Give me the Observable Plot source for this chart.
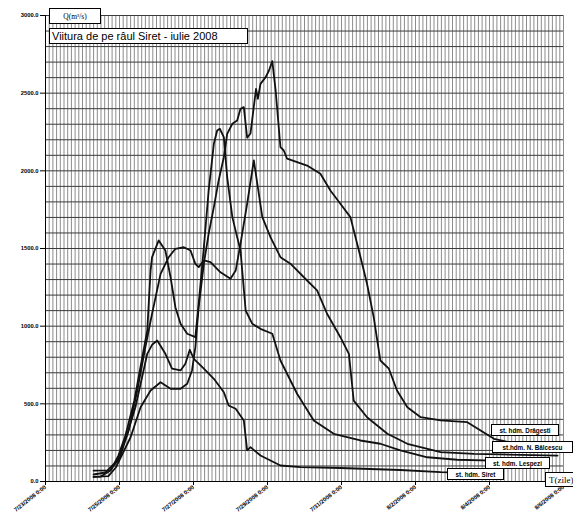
<!DOCTYPE html>
<html>
<head>
<meta charset="utf-8">
<script src="https://cdn.jsdelivr.net/npm/d3@7"></script>
<script src="https://cdn.jsdelivr.net/npm/@observablehq/plot@0.6"></script>
<style>
  html, body { margin: 0; padding: 0; background: #fff; overflow: hidden; }
  #wrap { position: relative; width: 573px; height: 512px; overflow: hidden; }
  #chart svg { display: block; }
  .box { position: absolute; background: #fff; border: 1px solid #000; box-sizing: border-box;
         display: flex; align-items: center; justify-content: center; white-space: nowrap; color: #000; }
  .unit { font: 7.5px "Liberation Serif", serif; }
  .title { font: 11px "Liberation Sans", Arial, sans-serif; justify-content: flex-start; padding-left: 2px; }
  .lab { font: bold 6.3px "Liberation Sans", Arial, sans-serif; }
  .tz { font: 9px "Liberation Serif", serif; justify-content: flex-start; padding-left: 3px; }
</style>
</head>
<body>
<div id="wrap">
  <div id="chart"></div>
  <div class="box unit" style="left:49px;top:8px;width:52px;height:16px">Q(m³/s)</div>
  <div class="box title" style="left:49px;top:28px;width:199px;height:16px">Viitura de pe râul Siret - iulie 2008</div>
  <div class="box lab" style="left:491px;top:424px;width:68px;height:12px">st. hdm. Drăgești</div>
  <div class="box lab" style="left:492px;top:441px;width:81px;height:12px">st.hdm. N. Bălcescu</div>
  <div class="box lab" style="left:485px;top:457px;width:65px;height:12px">st. hdm. Lespezi</div>
  <div class="box lab" style="left:447px;top:468px;width:57px;height:12px">st. hdm. Siret</div>
  <div class="box tz" style="left:545px;top:472px;width:40px;height:15px">T(zile)</div>
</div>
<script>
// Tick labels
const xTickPos = [0, 2, 4, 6, 8, 10, 12, 14];
const xTickLabels = ["7/23/2008 0:00", "7/25/2008 0:00", "7/27/2008 0:00", "7/29/2008 0:00",
                     "7/31/2008 0:00", "8/2/2008 0:00", "8/4/2008 0:00", "8/6/2008 0:00"];
const yTicks = [0, 500, 1000, 1500, 2000, 2500, 3000];

// Stations (time in days from first tick, discharge in m3/s)
const siretT = [1.3, 1.62, 1.94, 2.21, 2.43, 2.61, 2.75, 2.88, 3.02, 3.24, 3.42, 3.65, 3.78, 3.9, 4.01, 4.28, 4.55, 4.82, 4.95, 5.14, 5.36, 5.45, 5.54, 5.81, 6.35, 6.89, 7.97, 9.59, 10.68, 11.5];
const siretQ = [45, 58, 135, 307, 478, 671, 822, 880, 908, 822, 726, 715, 758, 848, 790, 726, 661, 575, 489, 468, 393, 200, 221, 167, 103, 92, 87, 74, 60, 55];

const lespeziT = [1.3, 1.49, 1.76, 1.97, 2.16, 2.4, 2.6, 2.75, 2.84, 2.88, 3.06, 3.24, 3.38, 3.51, 3.65, 3.83, 4.05, 4.14, 4.28, 4.41, 4.55, 4.64, 4.71, 4.82, 4.91, 5.05, 5.18, 5.27, 5.41, 5.59, 5.81, 6.13, 6.35, 6.8, 7.25, 7.79, 8.51, 9.05, 9.59, 10.32, 11.13, 12.1, 12.6];
const lespeziQ = [30, 32, 71, 167, 296, 520, 780, 972, 1358, 1444, 1552, 1487, 1315, 1122, 1015, 951, 929, 1144, 1508, 1873, 2174, 2260, 2271, 2217, 1959, 1702, 1573, 1487, 1101, 1015, 983, 951, 779, 565, 393, 307, 264, 243, 200, 156, 140, 135, 130];

const balcescuT = [1.3, 1.75, 2.0, 2.25, 2.48, 2.7, 2.88, 3.11, 3.33, 3.51, 3.74, 3.92, 4.05, 4.14, 4.28, 4.46, 4.73, 5.0, 5.14, 5.27, 5.45, 5.63, 5.86, 6.08, 6.35, 6.62, 7.07, 7.34, 7.61, 7.97, 8.2, 8.33, 8.69, 9.24, 9.78, 10.68, 11.58, 12.3, 13.84];
const balcescuQ = [70, 72, 150, 330, 586, 865, 1080, 1337, 1444, 1498, 1508, 1487, 1401, 1380, 1423, 1412, 1347, 1305, 1358, 1530, 1788, 2067, 1702, 1573, 1444, 1402, 1294, 1230, 1080, 929, 822, 521, 414, 307, 243, 189, 178, 174, 167];

const dragestiT = [1.3, 1.7, 1.9, 2.3, 2.57, 2.84, 3.11, 3.38, 3.65, 3.83, 3.96, 4.05, 4.14, 4.28, 4.41, 4.55, 4.68, 4.82, 4.91, 5.05, 5.18, 5.27, 5.36, 5.45, 5.54, 5.69, 5.74, 5.81, 5.95, 6.04, 6.13, 6.22, 6.35, 6.44, 6.53, 7.07, 7.43, 7.7, 7.97, 8.24, 8.47, 8.69, 8.87, 9.05, 9.28, 9.5, 9.78, 10.14, 10.68, 11.4, 11.76, 12.12, 12.57];
const dragestiQ = [30, 35, 90, 285, 478, 586, 639, 597, 597, 629, 715, 865, 1122, 1402, 1595, 1766, 1938, 2088, 2238, 2303, 2324, 2399, 2410, 2213, 2240, 2528, 2464, 2560, 2603, 2646, 2706, 2517, 2152, 2131, 2078, 2034, 1981, 1873, 1788, 1702, 1487, 1273, 1058, 779, 726, 586, 478, 414, 393, 382, 328, 275, 251];

const stations = [
  ["Siret", siretT, siretQ],
  ["Lespezi", lespeziT, lespeziQ],
  ["N. Bălcescu", balcescuT, balcescuQ],
  ["Drăgești", dragestiT, dragestiQ]
];
const table = stations.flatMap(([name, T, Q]) => T.map((t, i) => ({station: name, t, q: Q[i]})));

// Grid lines: horizontal every 100 m3/s, vertical every 0.1 day
const yGrid = d3.range(0, 3001, 100);
const xGrid = d3.range(0, 141).map(i => i / 10);

const chart = Plot.plot({
  width: 573,
  height: 512,
  marginTop: 15,
  marginBottom: 31,
  marginLeft: 45,
  marginRight: 10,
  style: {fontFamily: "'Liberation Sans', Arial, sans-serif", fontSize: "5.8px", fontWeight: "bold", background: "#fff", overflow: "visible"},
  x: {domain: [0, 14], ticks: xTickPos, tickFormat: d => xTickLabels[xTickPos.indexOf(d)], tickRotate: -38, tickSize: 4, tickPadding: 1, label: null},
  y: {domain: [0, 3000], ticks: yTicks, tickFormat: d => d.toFixed(1), tickSize: 5, tickPadding: 2, label: null},
  marks: [
    Plot.ruleX(xGrid, {stroke: "#777", strokeWidth: 0.85}),
    Plot.ruleY(yGrid, {stroke: "#3a3a3a", strokeWidth: 1}),
    Plot.ruleX([0], {stroke: "#000", strokeWidth: 1}),
    Plot.ruleY([0], {stroke: "#000", strokeWidth: 1}),
    Plot.line(table, {x: "t", y: "q", z: "station", stroke: "#111", strokeWidth: 1.8, curve: "linear"})
  ]
});
document.getElementById("chart").appendChild(chart);
</script>
</body>
</html>
